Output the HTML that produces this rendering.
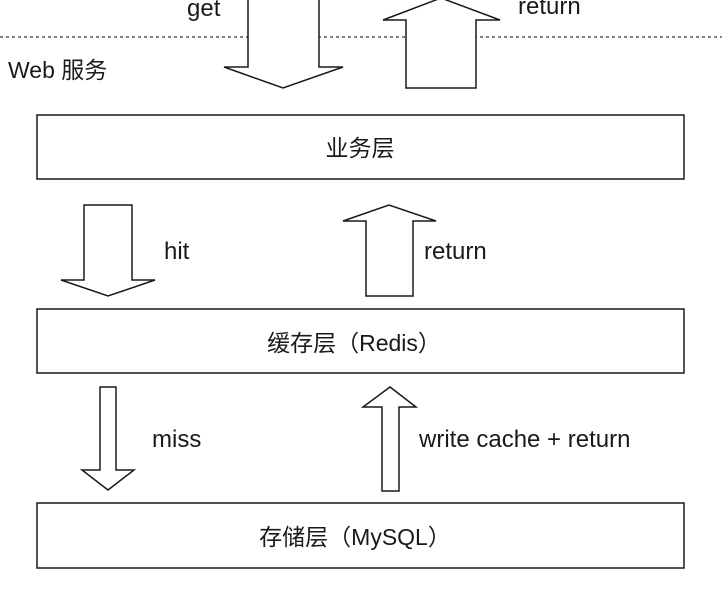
<!DOCTYPE html>
<html><head><meta charset="utf-8"><style>
html,body{margin:0;padding:0;background:#fff;}
svg{display:block;}
text{font-family:"Liberation Sans","Noto Sans CJK SC",sans-serif;fill:#1a1a1a;}
</style></head><body>
<svg width="722" height="589" viewBox="0 0 722 589" xmlns="http://www.w3.org/2000/svg">
<line x1="0" y1="37" x2="722" y2="37" stroke="#333" stroke-width="1.2" stroke-dasharray="3,3"/>
<g fill="#fff" stroke="#1a1a1a" stroke-width="1.5">
<!-- get arrow -->
<polygon points="248,-5 319,-5 319,67 343,67 283,88 224,67 248,67"/>
<!-- top return arrow -->
<polygon points="406,88 476,88 476,20 500,20 441,-2 383,20 406,20"/>
<rect x="37" y="115" width="647" height="64"/>
<!-- hit -->
<polygon points="84,205 132,205 132,280 155,280 108,296 61,280 84,280"/>
<!-- return -->
<polygon points="366,296 413,296 413,221 436,221 389,205 343,221 366,221"/>
<rect x="37" y="309" width="647" height="64"/>
<!-- miss -->
<polygon points="100,387 116,387 116,470 134,470 108,490 82,470 100,470"/>
<!-- write -->
<polygon points="382,491 399,491 399,407 416,407 390,387 363,407 382,407"/>
<rect x="37" y="503" width="647" height="65"/>
</g>
<text x="187" y="16" font-size="24">get</text>
<text x="518" y="14" font-size="24">return</text>
<text x="8" y="78" font-size="23">Web 服务</text>
<text x="360" y="156" font-size="23" text-anchor="middle">业务层</text>
<text x="164" y="259" font-size="24">hit</text>
<text x="424" y="259" font-size="24">return</text>
<text x="354" y="351" font-size="23" text-anchor="middle">缓存层（Redis）</text>
<text x="152" y="447" font-size="24">miss</text>
<text x="419" y="447" font-size="24">write cache + return</text>
<text x="355" y="545" font-size="23" text-anchor="middle">存储层（MySQL）</text>
</svg>
</body></html>
